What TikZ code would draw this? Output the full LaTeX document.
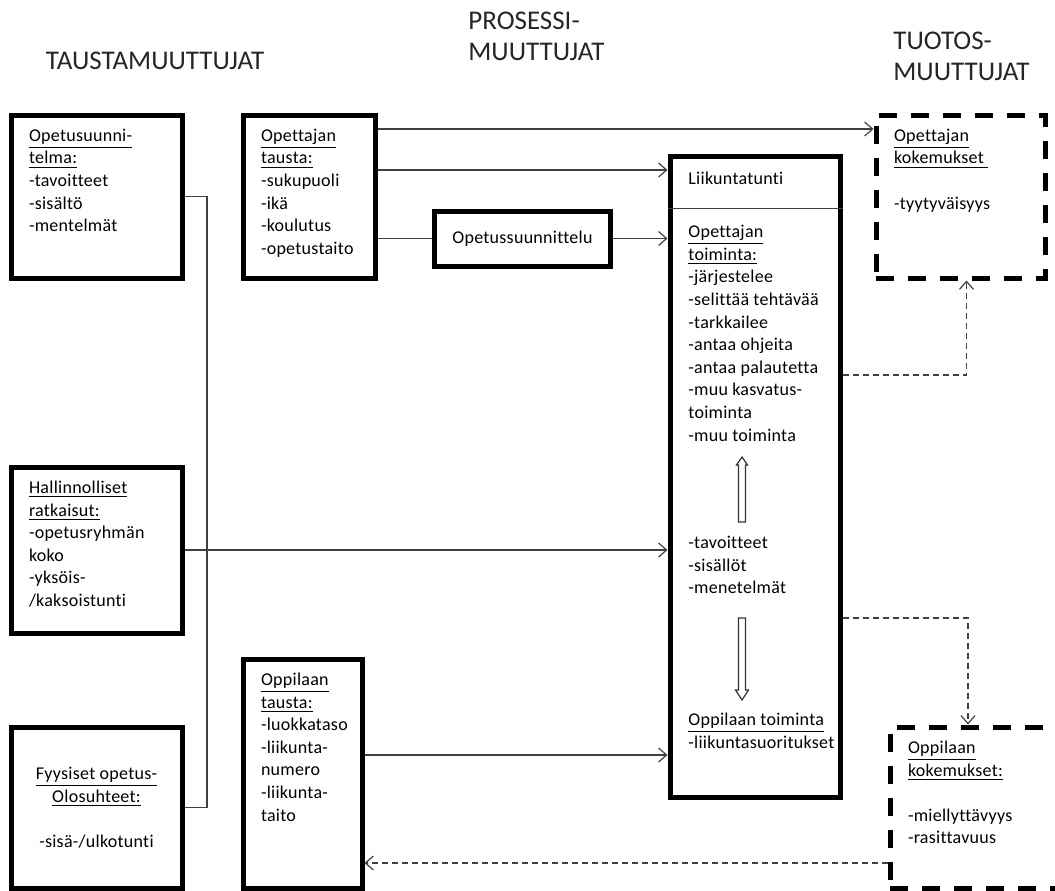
\documentclass[tikz,border=0pt]{standalone}
\usepackage{fontspec}
\setmainfont{Carlito}
\newfontfamily\runkofont[LetterSpace=1.5, Ligatures=NoCommon]{Carlito}
\usetikzlibrary{arrows.meta}
\newcommand{\runko}{\runkofont\fontsize{9}{11.3}\selectfont}
\newcommand{\otsikkofontti}{\fontsize{13.5}{15.5}\selectfont}
\tikzset{
    laatikko/.style={draw, rectangle, line width=2.5pt, inner xsep=9pt, inner ysep=7pt, font=\runko},
    tulos/.style={laatikko, dash pattern=on 9pt off 7pt},
    yhteys/.style={draw=black!75, line width=0.6pt},
    nuoli/.style={yhteys, -{Straight Barb[length=4pt,width=7pt]}},
    katko/.style={nuoli, dash pattern=on 3pt off 2pt},
    blokki/.style={draw=black!80, line width=0.6pt, fill=white},
    teksti/.style={inner sep=0pt, align=left, anchor=north west, font=\runko},
    otsikko/.style={inner sep=0pt, align=left, font=\otsikkofontti, text=black!85}
}
\begin{document}
\begin{tikzpicture}[x=0.5pt,y=-0.5pt]
        \useasboundingbox (0,0) rectangle (1055,890);
        \node[otsikko] (taustaots) at (155,61) {TAUSTAMUUTTUJAT};
        \node[otsikko, anchor=north west] (prosessiots) at (468,12) {PROSESSI-\\MUUTTUJAT};
        \node[otsikko, anchor=north west] (tuotosots) at (893,32) {TUOTOS-\\MUUTTUJAT};

        \node[laatikko] (opsuun) at (96.5,196.5) {
            \begin{minipage}[t][67.5pt][t]{67.5pt}
                \underline{Opetusuunni-}\\
                \underline{telma:}\\
                -tavoitteet\\
                -sisältö\\
                -mentelmät
            \end{minipage}
        };
        \node[laatikko] (hallinto) at (96.5,550) {
            \begin{minipage}[t][69pt][t]{67.5pt}
                \underline{Hallinnolliset}\\
                \underline{ratkaisut:}\\
                \mbox{-opetusryhmän}\\
                koko\\
                -yksöis-\\
                /kaksoistunti
            \end{minipage}
        };
        \node[laatikko, minimum width=85.5pt, minimum height=80.5pt, align=center] (fyys) at (96.5,807.5) {
            \underline{Fyysiset opetus-}\\
            \underline{Olosuhteet:}\\[11.3pt]
            -sisä-/ulkotunti
        };
        \node[laatikko] (opetausta) at (309,196.5) {
            \begin{minipage}[t][67.5pt][t]{48pt}
                \underline{Opettajan}\\
                \underline{tausta:}\\
                -sukupuoli\\
                -ikä\\
                -koulutus\\
                \mbox{-opetustaito}
            \end{minipage}
        };
        \node[laatikko, minimum width=84.5pt, minimum height=27.5pt] (suunnittelu) at (522.5,238.5) {Opetussuunnittelu};
        \node[laatikko] (oppitausta) at (302.5,773.5) {
            \begin{minipage}[t][100.5pt][t]{41.5pt}
                \underline{Oppilaan}\\
                \underline{tausta:}\\
                \mbox{-luokkataso}\\
                -liikunta-\\
                numero\\
                -liikunta-\\
                taito
            \end{minipage}
        };

        \node[laatikko, minimum width=85pt, minimum height=320.5pt] (tunti) at (755,476.5) {};
        \draw[yhteys] ([yshift=-27.5pt]tunti.north west) -- ([yshift=-27.5pt]tunti.north east);
        \node[teksti, anchor=west] (tuntiots) at (688,178) {Liikuntatunti};
        \node[teksti] (optoim) at (688,225) {\underline{Opettajan}\\ \underline{toiminta:}\\ -järjestelee\\ -selittää tehtävää\\ -tarkkailee\\ -antaa ohjeita\\ -antaa palautetta\\ -muu kasvatus-\\ toiminta\\ -muu toiminta};
        \node[teksti] (sisalto) at (688,536) {-tavoitteet\\ -sisällöt\\ -menetelmät};
        \node[teksti] (opptoim) at (688,713) {\underline{Oppilaan toiminta}\\ -liikuntasuoritukset};
        \draw[blokki] (738.5,522) -- (738.5,465) -- (736.5,465) -- (742,457) -- (747.5,465) -- (745.5,465) -- (745.5,522) -- cycle;
        \draw[blokki] (738.5,618) -- (738.5,690) -- (735.5,690) -- (742,700) -- (748.5,690) -- (745.5,690) -- (745.5,618) -- cycle;

        \node[tulos] (opkok) at (960.5,196.5) {
            \begin{minipage}[t][67.5pt][t]{66.5pt}
                \underline{Opettajan}\\
                \underline{kokemukset\ }\\[11.3pt]
                -tyytyväisyys
            \end{minipage}
        };
        \node[tulos] (oppkok) at (976,807.5) {
            \begin{minipage}[t][66.5pt][t]{68pt}
                \underline{Oppilaan}\\
                \underline{kokemukset:}\\[11.3pt]
                -miellyttävyys\\
                -rasittavuus
            \end{minipage}
        };

        \coordinate (kulma) at (207,550);
        \draw[yhteys] (opsuun.east) -| (kulma) |- (fyys.east);
        \draw[nuoli] (hallinto.east) -- (hallinto.east -| tunti.west);
        \draw[nuoli] ([yshift=33.75pt]opetausta.east) -- ([yshift=33.75pt]opkok.west);
        \draw[nuoli] ([yshift=13.25pt]opetausta.east) -- ([yshift=13.25pt]opetausta.east -| tunti.west);
        \draw[yhteys] (opetausta.east |- suunnittelu.west) -- (suunnittelu.west);
        \draw[nuoli] (suunnittelu.east) -- (suunnittelu.east -| tunti.west);
        \draw[nuoli] ([yshift=9.25pt]oppitausta.east) -- ([yshift=9.25pt]oppitausta.east -| tunti.west);
        \draw[katko] ([yshift=50.75pt]tunti.east) -| ([xshift=3pt]opkok.south);
        \draw[katko] ([yshift=-70.75pt]tunti.east) -| ([xshift=-4pt]oppkok.north);
        \draw[katko] ([yshift=-27.75pt]oppkok.west) -- ([yshift=-27.75pt]oppkok.west -| oppitausta.east);
    \end{tikzpicture}
\end{document}
